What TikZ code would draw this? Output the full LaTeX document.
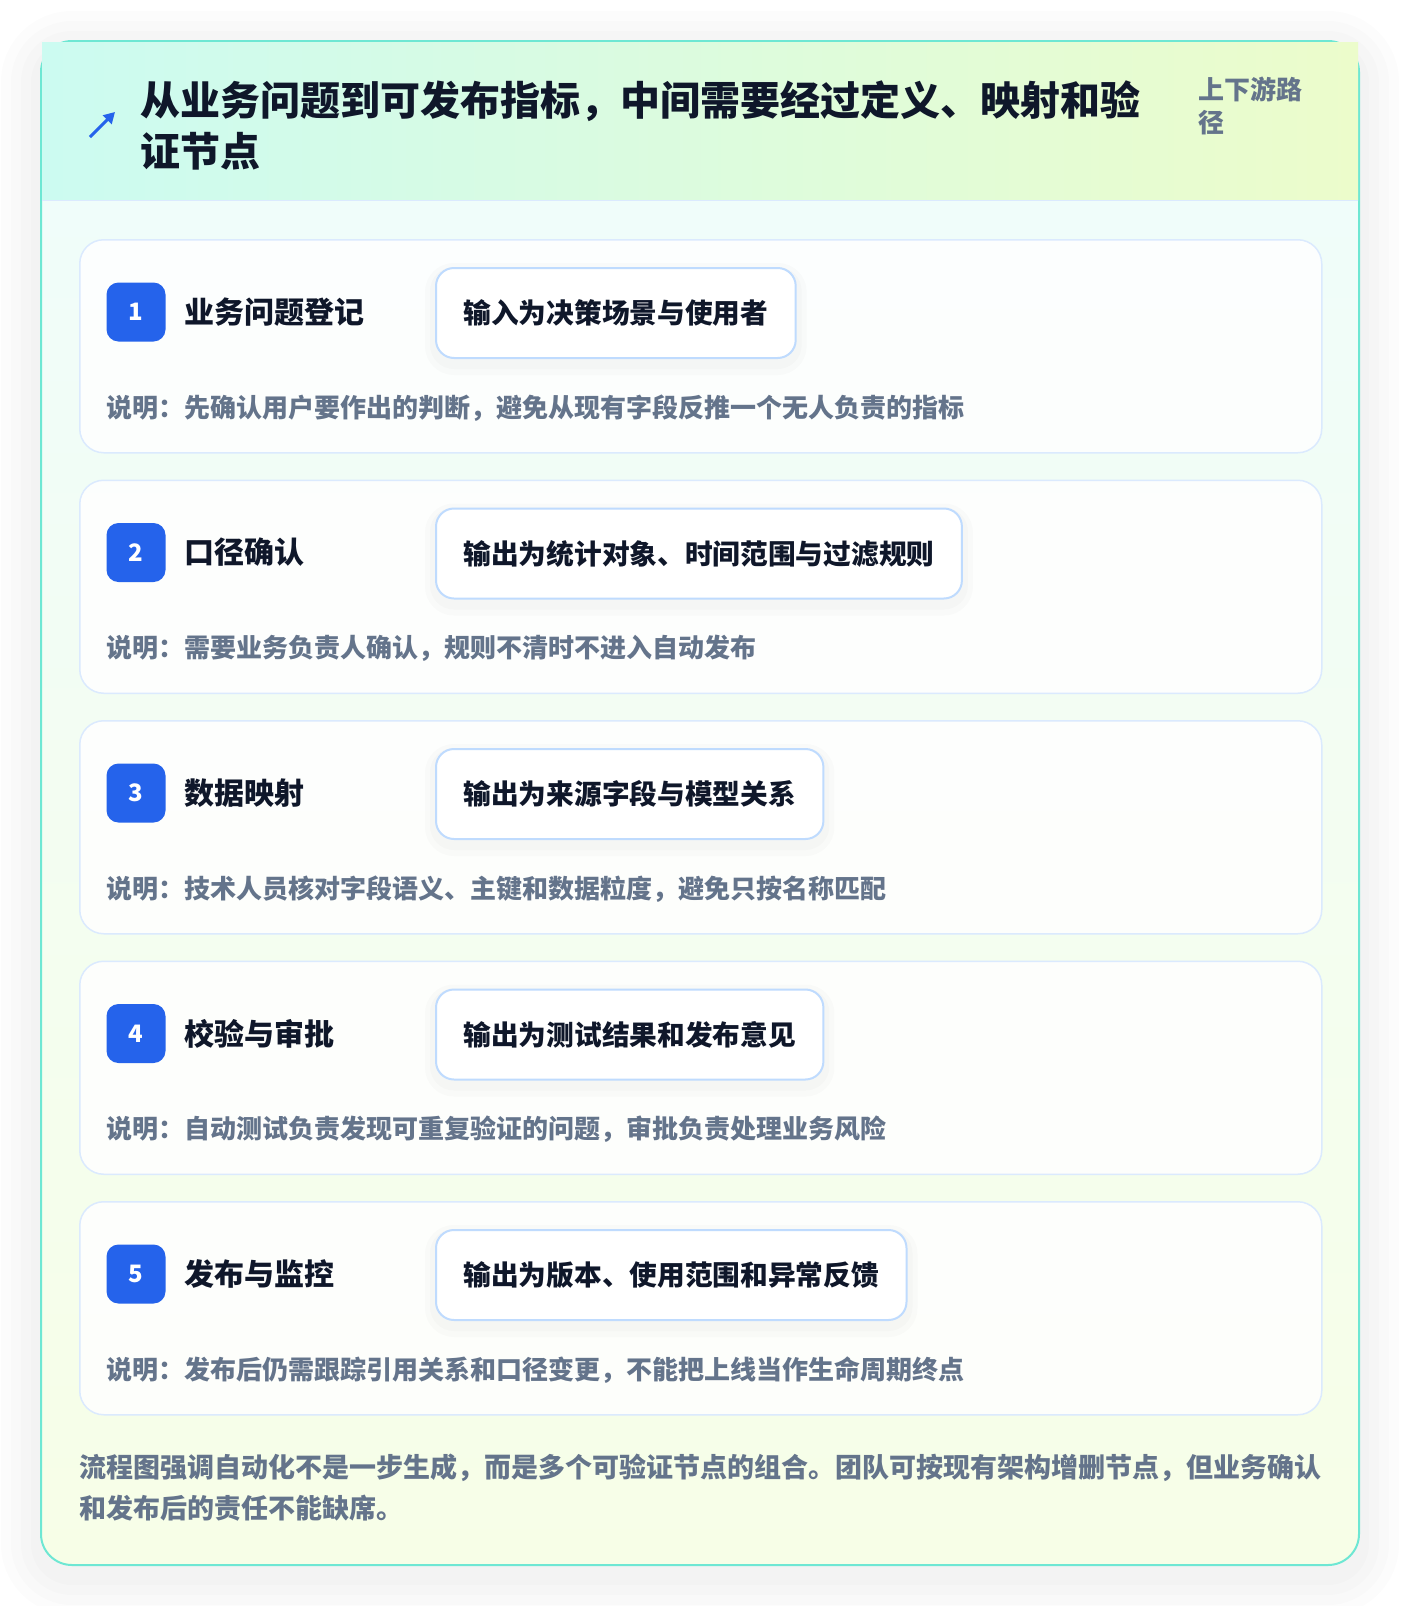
\documentclass[tikz,border=0pt]{standalone}
\usepackage{fontspec}
\setmainfont{Noto Sans CJK SC}
\usetikzlibrary{positioning,arrows.meta}

\definecolor{ink}{HTML}{0F172A}
\definecolor{muted}{HTML}{64748B}
\definecolor{badgeblue}{HTML}{2563EB}
\definecolor{cardline}{HTML}{DBEAFE}
\definecolor{pillline}{HTML}{BFDBFE}
\definecolor{frameteal}{HTML}{6EE7D3}
\definecolor{headleft}{HTML}{CCFBF1}
\definecolor{headright}{HTML}{ECFCCB}
\definecolor{bodytop}{HTML}{F0FDFA}
\definecolor{bodybottom}{HTML}{F7FEE7}

\tikzset{
  titletext/.style={font=\fontsize{40}{51}\selectfont\bfseries, text=ink, align=left, inner sep=0pt},
  sidetext/.style={font=\fontsize{26}{33}\selectfont\bfseries, text=muted, align=left, inner sep=0pt},
  stepcard/.style={draw=cardline, line width=1.5pt, fill=white, fill opacity=0.85, rounded corners=24pt,
    minimum width=1242pt, minimum height=213pt, anchor=north west, inner sep=0pt},
  badge/.style={fill=badgeblue, rounded corners=12pt, minimum size=59pt, inner sep=0pt,
    text=white, font=\fontsize{24}{24}\selectfont\bfseries},
  steptitle/.style={font=\fontsize{30}{30}\selectfont\bfseries, text=ink, inner sep=0pt},
  pill/.style={draw=pillline, line width=2pt, fill=white, rounded corners=18pt,
    minimum height=90pt, inner xsep=27.5pt, text=ink, font=\fontsize{27.7}{27.7}\selectfont\bfseries,
    preaction={draw=black, draw opacity=0.015, line width=22pt, transform canvas={yshift=-6pt}},
    preaction={draw=black, draw opacity=0.015, line width=12pt, transform canvas={yshift=-5pt}}},
  notetext/.style={font=\fontsize{26}{41}\selectfont\bfseries, text=muted, inner sep=0pt},
  remarktext/.style={font=\fontsize{27}{41}\selectfont\bfseries, text=muted, inner sep=0pt, align=left}
}

\begin{document}
\begin{tikzpicture}[x=1pt, y=-1pt]
    % Page size
    \useasboundingbox[fill=white] (0,0) rectangle (1400,1606);

    % Soft shadow of the frame
    \foreach \w in {20,40,60,80}
        \draw[black, draw opacity=0.012, line width=\w pt, rounded corners=31pt,
              transform canvas={yshift=-10pt}] (41,41) rectangle (1359,1565);

    % Frame background, border and header band
    \begin{scope}
        \clip[rounded corners=31pt] (41,41) rectangle (1359,1565);
        \shade[top color=bodytop, bottom color=bodybottom] (41,201) rectangle (1359,1565);
    \end{scope}
    \draw[frameteal, line width=2pt, rounded corners=31pt] (41,41) rectangle (1359,1565);
    \shade[left color=headleft, right color=headright] (42,42) rectangle (1358,200);
    \draw[cardline, line width=1.5pt] (42,200.5) -- (1358,200.5);

    % Header icon and texts
    \draw[badgeblue, line width=3pt, -{Triangle[length=11pt,width=12pt]}] (90,137) -- (115,112);
    \node[titletext, anchor=west] (title) at (140,125.5)
        {从业务问题到可发布指标，中间需要经过定义、映射和验\\证节点};
    \node[sidetext, anchor=west] (side) at (1198,106) {上下游路\\径};

    % Steps
    \foreach \i/\name/\io/\note in {
        1/业务问题登记/输入为决策场景与使用者/说明：先确认用户要作出的判断，避免从现有字段反推一个无人负责的指标,
        2/口径确认/输出为统计对象、时间范围与过滤规则/说明：需要业务负责人确认，规则不清时不进入自动发布,
        3/数据映射/输出为来源字段与模型关系/说明：技术人员核对字段语义、主键和数据粒度，避免只按名称匹配,
        4/校验与审批/输出为测试结果和发布意见/说明：自动测试负责发现可重复验证的问题，审批负责处理业务风险,
        5/发布与监控/输出为版本、使用范围和异常反馈/说明：发布后仍需跟踪引用关系和口径变更，不能把上线当作生命周期终点}
    {
        \pgfmathsetmacro\top{239+(\i-1)*240.5}
        \node[stepcard] (card\i) at (79,\top) {};
        \node[badge] (badge\i) at (136,\top+73) {\i};
        \node[steptitle, right=19pt of badge\i] (name\i) {\name};
        \node[pill, anchor=west] (io\i) at (435,\top+74) {\io};
        \node[notetext, anchor=west] (note\i) at (106.5,\top+169) {\note};
    }

    % Closing remark
    \node[remarktext, anchor=west] (remark) at (79,1488)
        {流程图强调自动化不是一步生成，而是多个可验证节点的组合。团队可按现有架构增删节点，但业务确认\\和发布后的责任不能缺席。};
\end{tikzpicture}
\end{document}
